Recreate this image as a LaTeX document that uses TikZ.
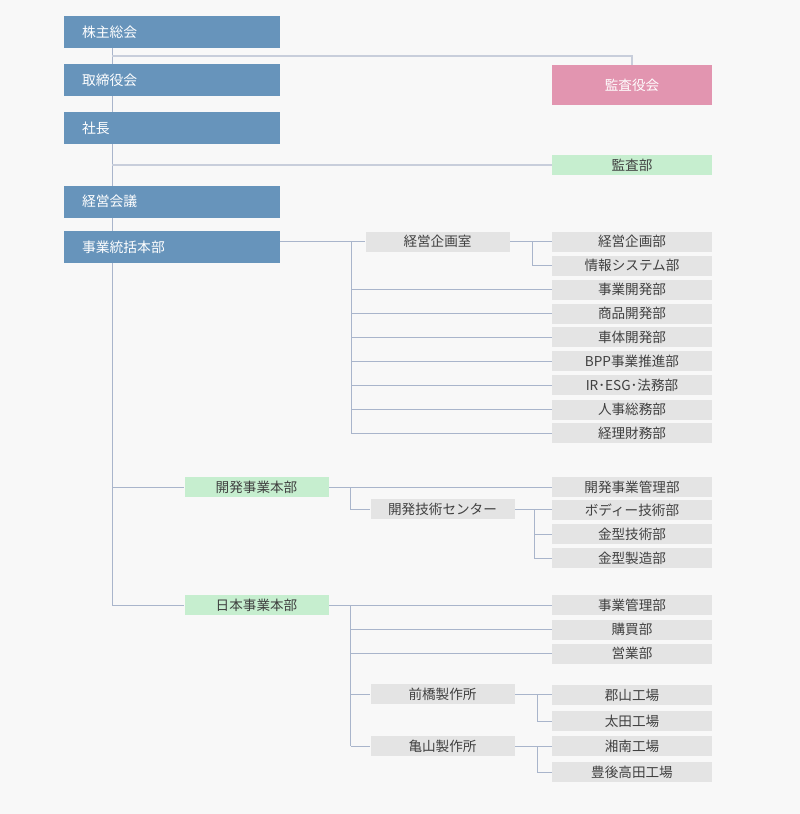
\documentclass[tikz,border=0pt]{standalone}
\usepackage{fontspec}
\setmainfont{Noto Sans CJK JP}
\usetikzlibrary{backgrounds}
\definecolor{bg}{HTML}{F8F8F8}
\definecolor{bluebox}{HTML}{6794BB}
\definecolor{pinkbox}{HTML}{E295B0}
\definecolor{greenbox}{HTML}{C6EECF}
\definecolor{greybox}{HTML}{E4E4E4}
\definecolor{linec}{HTML}{A9B5CB}
\definecolor{linel}{HTML}{C8CEDB}
\definecolor{txt}{HTML}{404040}
\tikzset{
  base/.style={inner sep=0pt, font=\fontsize{13.6}{13.6}\selectfont},
  bluebox/.style={base, fill=bluebox, text=white, minimum width=216pt, minimum height=32pt,
     text width=180pt, align=left, font=\fontsize{13.8}{13.8}\selectfont},
  pinkbox/.style={base, fill=pinkbox, text=white, minimum width=160pt, minimum height=40pt},
  greenR/.style={base, fill=greenbox, text=txt, minimum width=160pt, minimum height=20pt},
  greenM/.style={base, fill=greenbox, text=txt, minimum width=144pt, minimum height=20pt},
  greyR/.style={base, fill=greybox, text=txt, minimum width=160pt, minimum height=20pt},
  greyM/.style={base, fill=greybox, text=txt, minimum width=144pt, minimum height=20pt},
  conn/.style={draw=linec, line width=1pt},
  connl/.style={draw=linel, line width=1.5pt},
}
\begin{document}
\begin{tikzpicture}[x=1pt, y=-1pt]
\useasboundingbox (0,0) rectangle (800,814);
% left column
\node[bluebox] (kabu) at (172,32) {株主総会};
\node[bluebox] (tori) at (172,80) {取締役会};
\node[bluebox] (shacho) at (172,128) {社長};
\node[bluebox] (keiei) at (172,201.5) {経営会議};
\node[bluebox] (jigyo) at (172,247) {事業統括本部};
\coordinate (trunk) at (112,0);
% right upper
\node[pinkbox] (kansayaku) at (632,85) {監査役会};
\node[greenR] (kansabu) at (632,165) {監査部};
% section 1
\node[greyM] (kikakushitsu) at (437.5,241.5) {経営企画室};
\node[greyR] (kikakubu) at (632,241.5) {経営企画部};
\node[greyR] (joho) at (632,265.5) {情報システム部};
\node[greyR] (jkaihatsu) at (632,289.5) {事業開発部};
\node[greyR] (shohin) at (632,313.5) {商品開発部};
\node[greyR] (shatai) at (632,337) {車体開発部};
\node[greyR] (bpp) at (632,361) {BPP事業推進部};
\node[greyR] (ir) at (632,385) {IR･ESG･法務部};
\node[greyR] (jinji) at (632,409.5) {人事総務部};
\node[greyR] (keiri) at (632,433) {経理財務部};
\coordinate (b1) at (351,0);
\coordinate (b1b) at (532,0);
% section 2
\node[greenM] (kaihatsuhq) at (256.5,487) {開発事業本部};
\node[greyM] (center) at (442.5,509) {開発技術センター};
\node[greyR] (kkanri) at (632,487) {開発事業管理部};
\node[greyR] (body) at (632,510) {ボディー技術部};
\node[greyR] (kgijutsu) at (632,534) {金型技術部};
\node[greyR] (kseizo) at (632,558) {金型製造部};
\coordinate (b2) at (350.5,0);
\coordinate (b2b) at (534,0);
% section 3
\node[greenM] (nihon) at (256.5,605) {日本事業本部};
\node[greyR] (jkanri) at (632,605) {事業管理部};
\node[greyR] (kobai) at (632,629.5) {購買部};
\node[greyR] (eigyo) at (632,653.5) {営業部};
\node[greyM] (maebashi) at (442.5,694) {前橋製作所};
\node[greyM] (kameyama) at (442.5,746) {亀山製作所};
\node[greyR] (koriyama) at (632,695) {郡山工場};
\node[greyR] (ota) at (632,721) {太田工場};
\node[greyR] (shonan) at (632,746) {湘南工場};
\node[greyR] (bungo) at (632,772) {豊後高田工場};
\coordinate (b3) at (350.5,0);
\coordinate (b3b) at (537,0);
% connectors
\begin{pgfonlayer}{background}
\fill[bg] (0,0) rectangle (800,814);
\draw[conn] (kabu.south -| trunk) -- (trunk |- nihon);
\draw[connl] (trunk |- 0,56) -| (kansayaku.north);
\draw[connl] (trunk |- kansabu) -- (kansabu.west);
% section 1
\draw[conn] (jigyo.east |- kikakushitsu) -- (kikakushitsu.west);
\draw[conn] (b1 |- kikakushitsu) -- (b1 |- keiri);
\foreach \n in {jkaihatsu,shohin,shatai,bpp,ir,jinji,keiri}
  \draw[conn] (b1 |- \n) -- (\n.west);
\draw[conn] (kikakushitsu.east) -- (kikakubu.west);
\draw[conn] (b1b |- kikakubu) |- (joho.west);
% section 2
\draw[conn] (trunk |- kaihatsuhq) -- (kaihatsuhq.west);
\draw[conn] (kaihatsuhq.east) -- (kkanri.west);
\draw[conn] (b2 |- kaihatsuhq) |- (center.west);
\draw[conn] (center.east) -- (body.west |- center);
\draw[conn] (b2b |- center) |- (kseizo.west);
\draw[conn] (b2b |- kgijutsu) -- (kgijutsu.west);
% section 3
\draw[conn] (trunk |- nihon) -- (nihon.west);
\draw[conn] (nihon.east) -- (jkanri.west);
\draw[conn] (b3 |- nihon) -- (b3 |- kameyama);
\foreach \n in {kobai,eigyo,maebashi,kameyama}
  \draw[conn] (b3 |- \n) -- (\n.west);
\draw[conn] (maebashi.east) -- (koriyama.west |- maebashi);
\draw[conn] (b3b |- maebashi) |- (ota.west);
\draw[conn] (kameyama.east) -- (shonan.west);
\draw[conn] (b3b |- kameyama) |- (bungo.west);
\end{pgfonlayer}
\end{tikzpicture}
\end{document}
